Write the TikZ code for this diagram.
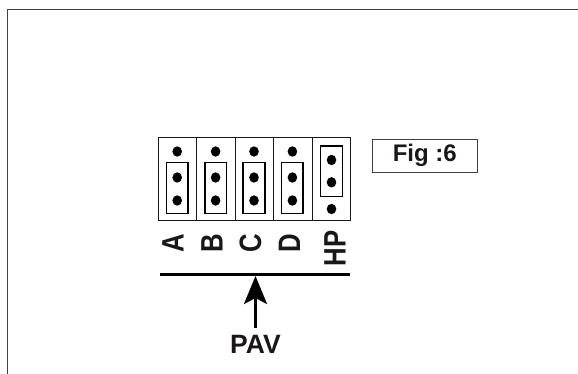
\documentclass[tikz,border=0pt]{standalone}
\usepackage{fontspec}
\setmainfont{Liberation Sans}
\usetikzlibrary{arrows.meta,shapes.geometric}
\definecolor{ink}{HTML}{1A1718}
\definecolor{framegray}{HTML}{404040}
\tikzset{
  x=1pt,y=1pt,
  outerbox/.style={draw=ink,line width=0.9pt,minimum width=38.4pt,minimum height=82.7pt,inner sep=0pt},
  jumper/.style={draw=black,line width=1.5pt,minimum width=21.6pt,minimum height=51pt,inner sep=0pt},
  pin/.style={fill=black,ellipse,minimum width=9.6pt,minimum height=10.4pt,inner sep=0pt},
  pinlabel/.style={text=ink,font=\fontsize{31}{31}\selectfont\bfseries,rotate=90,anchor=base,inner sep=0pt},
  figlabel/.style={draw=framegray,line width=0.9pt,text=ink,font=\fontsize{24}{24}\selectfont\bfseries,minimum width=105pt,minimum height=33pt,inner sep=0pt},
  bar/.style={line width=3pt,draw=black},
  pavarrow/.style={line width=3pt,draw=black,-{Stealth[length=28pt,width=23pt,inset=6pt]}}
}
\begin{document}
\begin{tikzpicture}
\useasboundingbox (0,0) rectangle (578,-374);
% frame (top and left only)
\draw[framegray,line width=1pt] (7,-374) -- (7,-9.5) -- (578,-9.5);
% outer boxes
\foreach \i/\n in {0/a,1/b,2/c,3/d,4/hp}{
  \node[outerbox] (box\n) at ({158.5+38.4*\i+19.2},-179.3) {};
}
% jumpers A-D
\foreach \i/\n in {0/a,1/b,2/c,3/d}{
  \pgfmathsetmacro{\cx}{177.2+38.4*\i}
  \node[jumper] (jmp\n) at (\cx,-188) {};
  \node[pin] (p\n1) at (\cx,-151.5) {};
  \node[pin] (p\n2) at (\cx,-177.5) {};
  \node[pin] (p\n3) at (\cx,-200.5) {};
}
% HP jumper
\node[jumper,minimum height=50.7pt] (jmphp) at (331.5,-171.3) {};
\node[pin] (php1) at (331.5,-160) {};
\node[pin] (php2) at (331.5,-182.3) {};
\node[pin] (php3) at (331.5,-209) {};
% labels
\node[pinlabel] (la) at (183.5,-243) {\scalebox{0.83}[1]{A}};
\node[pinlabel] (lb) at (222.5,-243) {\scalebox{0.83}[1]{B}};
\node[pinlabel] (lc) at (261,-243) {\scalebox{0.83}[1]{C}};
\node[pinlabel] (ld) at (300,-243) {\scalebox{0.83}[1]{D}};
\node[pinlabel] (lhp) at (345.5,-248.5) {\scalebox{0.83}[1]{HP}};
% bar
\coordinate (barl) at (160,-274.5);
\coordinate (barr) at (350,-274.5);
\coordinate (bartip) at (255.5,-276);
\draw[bar] (barl) -- (barr);
% PAV
\node[text=ink,font=\fontsize{26.5}{26.5}\selectfont\bfseries,anchor=base,inner sep=0pt] (pav) at (255.5,-353.5) {PAV};
\coordinate (shaftbot) at (255.5,-328);
\draw[pavarrow] (shaftbot) -- (bartip);
% Fig label
\node[figlabel] (fig) at (424.8,-155.8) {Fig :6};
\end{tikzpicture}
\end{document}
